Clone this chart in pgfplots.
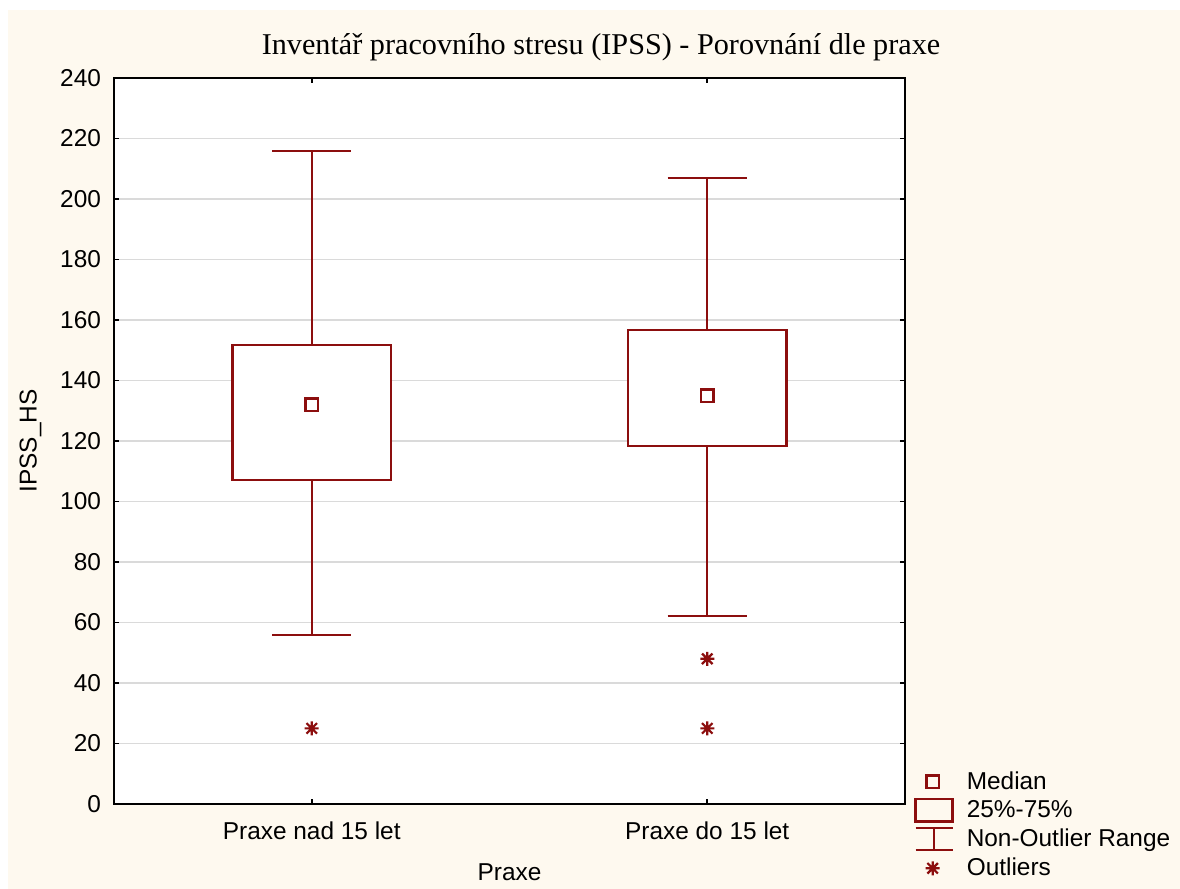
\documentclass[border=0pt]{standalone}
\usepackage{pgfplots}
\pgfplotsset{compat=1.18}
\usepackage{fontspec}
\setmainfont{Liberation Sans}
\newfontfamily\titlefont{Liberation Serif}
\definecolor{boxred}{RGB}{140,14,14}
\definecolor{cream}{RGB}{254,249,239}
\definecolor{gridgray}{RGB}{218,218,218}
\pgfdeclareplotmark{ast8}{%
  \pgfpathmoveto{\pgfqpoint{-\pgfplotmarksize}{0pt}}\pgfpathlineto{\pgfqpoint{\pgfplotmarksize}{0pt}}%
  \pgfpathmoveto{\pgfqpoint{0pt}{-\pgfplotmarksize}}\pgfpathlineto{\pgfqpoint{0pt}{\pgfplotmarksize}}%
  \pgfpathmoveto{\pgfqpoint{-0.75\pgfplotmarksize}{-0.75\pgfplotmarksize}}\pgfpathlineto{\pgfqpoint{0.75\pgfplotmarksize}{0.75\pgfplotmarksize}}%
  \pgfpathmoveto{\pgfqpoint{-0.75\pgfplotmarksize}{0.75\pgfplotmarksize}}\pgfpathlineto{\pgfqpoint{0.75\pgfplotmarksize}{-0.75\pgfplotmarksize}}%
  \pgfusepathqstroke}
\begin{document}
\begin{tikzpicture}
\useasboundingbox (0,0) rectangle (590pt,444.5pt);
\fill[cream] (4pt,0) rectangle (590pt,439.5pt);
\begin{axis}[
  at={(57pt,42.5pt)}, anchor=south west,
  scale only axis, width=395.5pt, height=363pt,
  axis background/.style={fill=white},
  axis line style={line width=0.9pt, black},
  xmin=-0.5, xmax=1.5, ymin=0, ymax=240,
  xtick={0,1}, xticklabels={Praxe nad 15 let, Praxe do 15 let},
  ytick={0,20,...,240},
  tick align=inside, major tick length=2.5pt,
  tick style={line width=0.9pt, black},
  ymajorgrids, major grid style={gridgray, line width=0.7pt},
  /pgf/number format/assume math mode=true,
  tick label style={font=\fontsize{12.2}{14}\selectfont},
  label style={font=\fontsize{12.2}{14}\selectfont},
  yticklabel style={xshift=-3pt},
  xticklabel style={yshift=-5.5pt},
  xlabel={Praxe}, ylabel={IPSS\_HS},
  xlabel style={at={(axis description cs:0.5,-0.073)}, anchor=north},
  ylabel style={at={(axis description cs:-0.0828,0.5)}, anchor=south},
  title={\titlefont Inventář pracovního stresu (IPSS) - Porovnání dle praxe},
  title style={at={(axis description cs:0.6157,1.0344)}, anchor=base, yshift=-6.5pt, font=\fontsize{15.1}{17}\selectfont},
  legend style={at={(axis description cs:1.0038,0.0565)}, anchor=north west, draw=none, fill=none,
    font=\fontsize{12.2}{14}\selectfont, row sep=0.2pt,
    /tikz/every odd column/.append style={column sep=4.5pt}},
  legend cell align=left,
]
% whiskers, group 1
\addplot[boxred, line width=1pt, forget plot] coordinates {(0,151.7) (0,216)};
\addplot[boxred, line width=1pt, forget plot] coordinates {(-0.1,216) (0.1,216)};
\addplot[boxred, line width=1pt, forget plot] coordinates {(0,107.1) (0,56)};
\addplot[boxred, line width=1pt, forget plot] coordinates {(-0.1,56) (0.1,56)};
% whiskers, group 2
\addplot[boxred, line width=1pt, forget plot] coordinates {(1,156.7) (1,207)};
\addplot[boxred, line width=1pt, forget plot] coordinates {(0.9,207) (1.1,207)};
\addplot[boxred, line width=1pt, forget plot] coordinates {(1,118.3) (1,62)};
\addplot[boxred, line width=1pt, forget plot] coordinates {(0.9,62) (1.1,62)};
% boxes
\addplot[boxred, line width=1.2pt, fill=white, forget plot]
  coordinates {(-0.2,107.1) (0.2,107.1) (0.2,151.7) (-0.2,151.7)} -- cycle;
\addplot[boxred, line width=1.2pt, fill=white, forget plot]
  coordinates {(0.8,118.3) (1.2,118.3) (1.2,156.7) (0.8,156.7)} -- cycle;
% medians
\addplot[only marks, mark=square, mark size=3.1pt, boxred, line width=1.2pt]
  coordinates {(0,132) (1,135)};
\addlegendentry{Median}
\addlegendimage{legend image code/.code={\draw[boxred, line width=1.2pt] (0pt,-5.6pt) rectangle (18.5pt,5.6pt);}}
\addlegendentry{25\%-75\%}
\addlegendimage{legend image code/.code={\draw[boxred, line width=1pt] (0pt,5.5pt) -- (18.5pt,5.5pt) (9.25pt,5.5pt) -- (9.25pt,-5.5pt) (0pt,-5.5pt) -- (18.5pt,-5.5pt);}}
\addlegendentry{Non-Outlier Range}
% outliers
\addplot[only marks, mark=ast8, mark size=3.5pt, boxred, line width=1.1pt]
  coordinates {(0,25) (1,48) (1,25)};
\addlegendentry{Outliers}
\end{axis}
\end{tikzpicture}
\end{document}
